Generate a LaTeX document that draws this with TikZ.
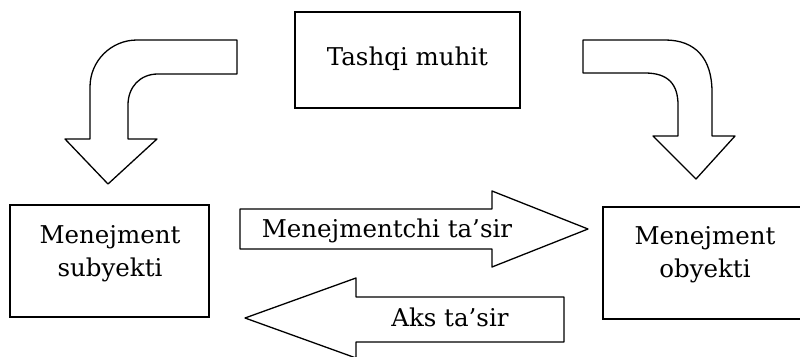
\documentclass[tikz,border=0pt]{standalone}
\usepackage{fontspec}
\setmainfont{DejaVu Serif}
\begin{document}
\begin{tikzpicture}[x=1pt,y=-1pt,
  outline/.style={draw=black,line width=1.3pt,line join=round,fill=white},
  boxst/.style={draw=black,line width=1.3pt,inner sep=0pt},
  txt/.style={inner sep=0pt,align=center,font=\fontsize{24.5}{33}\selectfont}]
\useasboundingbox (0,0) rectangle (800,356);
% top box
\node[boxst,minimum width=225pt,minimum height=96pt] (env) at (407.5,60) {};
\node[txt,anchor=base] (envt) at (407.5,65) {Tashqi muhit};
% left box
\node[boxst,minimum width=199pt,minimum height=112pt] (subj) at (109.5,261) {};
\node[txt] (subjt) at (110,254) {Menejment\\subyekti};
% right box (cut at right edge)
\node[boxst,minimum width=205pt,minimum height=112pt] (obj) at (705.5,263) {};
\node[txt] (objt) at (705,255) {Menejment\\obyekti};
% left curved arrow
\draw[outline] (237,40) -- (137,40) .. controls (111,40) and (90,61) .. (90,87)
  -- (90,139) -- (65,139) -- (108,184) -- (157,139) -- (128,139) -- (128,105)
  .. controls (128,87) and (140,74) .. (158,74) -- (237,74) -- cycle;
% right curved arrow
\draw[outline] (583,40) -- (665,40) .. controls (695,40) and (712,58) .. (712,92)
  -- (712,136) -- (735,136) -- (696,179) -- (653,136) -- (678,136) -- (678,105)
  .. controls (678,84) and (668,73) .. (645,73) -- (583,73) -- cycle;
% forward arrow
\draw[outline] (240,209) -- (492,209) -- (492,191) -- (588,229) -- (492,267)
  -- (492,249) -- (240,249) -- cycle;
\node[txt,anchor=base] (fwdt) at (387,237) {Menejmentchi ta'sir};
% back arrow
\draw[outline] (564,297) -- (356,297) -- (356,278) -- (245,318) -- (356,358)
  -- (356,342) -- (564,342) -- cycle;
\node[txt,anchor=base] (backt) at (450,326) {Aks ta'sir};
\end{tikzpicture}
\end{document}
